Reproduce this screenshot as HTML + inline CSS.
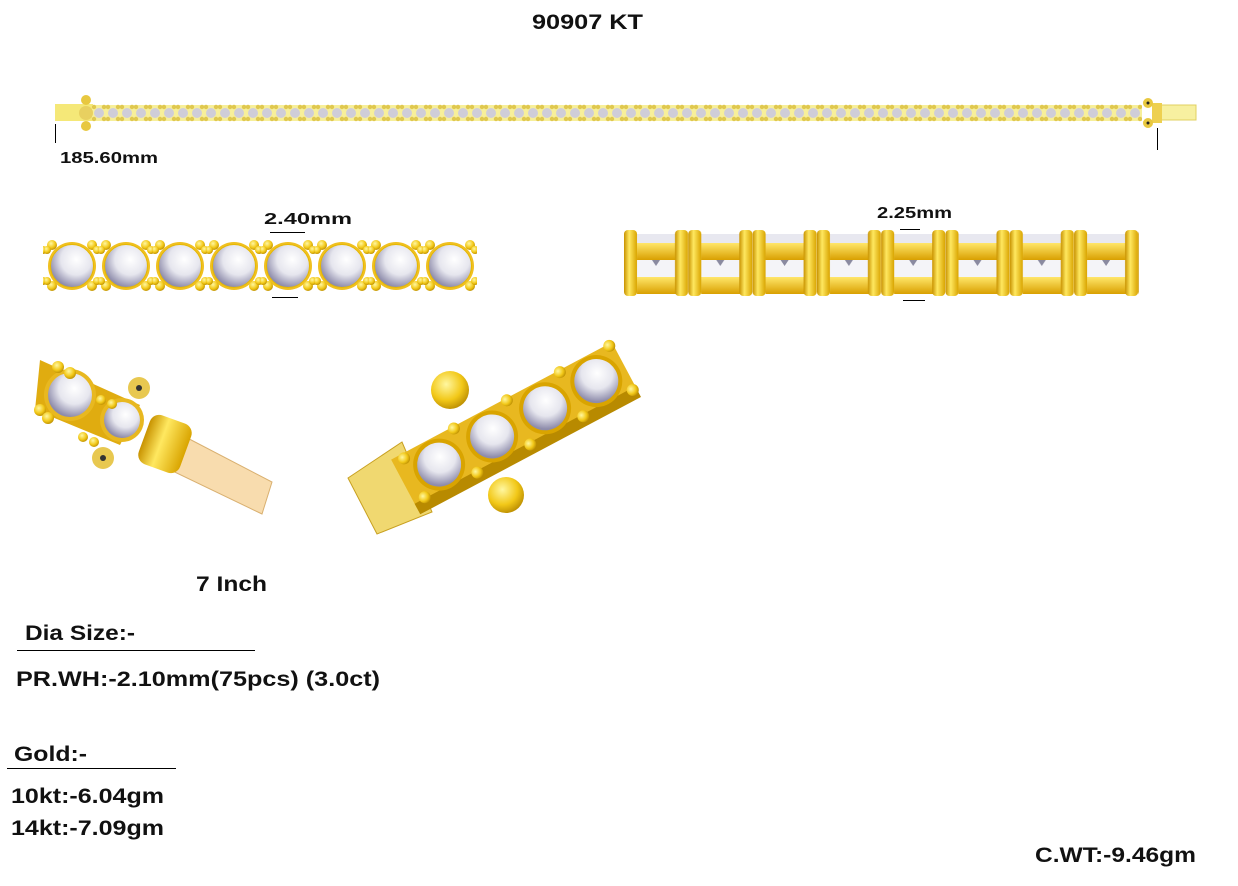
<!DOCTYPE html>
<html><head><meta charset="utf-8"><style>
html,body{margin:0;padding:0;background:#fff;width:1238px;height:886px;overflow:hidden}
svg{display:block}
text{font-family:"Liberation Sans",sans-serif;font-weight:bold;fill:#111}
</style></head><body>
<svg width="1238" height="886" viewBox="0 0 1238 886" xmlns="http://www.w3.org/2000/svg">
<defs>
<radialGradient id="stone" cx="0.6" cy="0.35" r="0.65">
<stop offset="0" stop-color="#ffffff"/><stop offset="0.55" stop-color="#e6e6ee"/><stop offset="1" stop-color="#8e8cab"/></radialGradient>
<radialGradient id="ball" cx="0.4" cy="0.35" r="0.7">
<stop offset="0" stop-color="#fff7a0"/><stop offset="0.6" stop-color="#f2c818"/><stop offset="1" stop-color="#b88a00"/></radialGradient>
<linearGradient id="post" x1="0" x2="1">
<stop offset="0" stop-color="#c89200"/><stop offset="0.4" stop-color="#ffe860"/><stop offset="1" stop-color="#d9a400"/></linearGradient>
<linearGradient id="bar" x1="0" y1="0" x2="0" y2="1">
<stop offset="0" stop-color="#ffe66a"/><stop offset="1" stop-color="#d9a000"/></linearGradient>
<pattern id="chain" x="92" y="100" width="14" height="26" patternUnits="userSpaceOnUse">
<rect x="0" y="5" width="14" height="16" fill="#f7ef9a"/>
<circle cx="7" cy="13" r="5" fill="#cfcdd8"/>
<circle cx="2" cy="7" r="2.2" fill="#e0c850"/><circle cx="12" cy="7" r="2.2" fill="#e0c850"/>
<circle cx="2" cy="19" r="2.2" fill="#e0c850"/><circle cx="12" cy="19" r="2.2" fill="#e0c850"/>
</pattern>
<pattern id="row" x="45" y="230" width="54" height="70" patternUnits="userSpaceOnUse">
<circle cx="27" cy="36" r="24" fill="#f0c020"/>
<circle cx="27" cy="36" r="21.5" fill="url(#stone)" stroke="#e6b800" stroke-width="1"/>
<circle cx="7" cy="15" r="5" fill="url(#ball)"/><circle cx="47" cy="15" r="5" fill="url(#ball)"/>
<circle cx="7" cy="56" r="5" fill="url(#ball)"/><circle cx="47" cy="56" r="5" fill="url(#ball)"/>
<circle cx="2" cy="20" r="4" fill="url(#ball)"/><circle cx="52" cy="20" r="4" fill="url(#ball)"/>
<circle cx="2" cy="51" r="4" fill="url(#ball)"/><circle cx="52" cy="51" r="4" fill="url(#ball)"/>
</pattern>
<pattern id="side" x="624" y="228" width="64.3" height="70" patternUnits="userSpaceOnUse">
<rect x="13" y="6" width="40" height="10" fill="#e8e8f0"/>
<rect x="13" y="32" width="40" height="17" fill="#f4f4f8"/>
<polygon points="28,32 36,32 32,38" fill="#8a8aa0"/>
<rect x="13" y="15" width="40" height="17" fill="url(#bar)"/>
<rect x="13" y="49" width="40" height="17" fill="url(#bar)"/>
<rect x="0" y="2" width="13" height="66" rx="4" fill="url(#post)"/>
<rect x="51" y="2" width="13" height="66" rx="4" fill="url(#post)"/>
</pattern>
</defs>

<text x="532" y="29" font-size="21" textLength="111" lengthAdjust="spacingAndGlyphs">90907 KT</text>

<rect x="55" y="104" width="38" height="17" fill="#f5e878"/>
<rect x="92" y="100" width="1050" height="26" fill="url(#chain)"/>
<rect x="1160" y="105" width="36" height="15" fill="#f7f0a0" stroke="#e0d060"/>
<rect x="1152" y="103" width="10" height="20" fill="#eed050"/>
<circle cx="86" cy="100" r="5" fill="#e8c840"/><circle cx="86" cy="126" r="5" fill="#e8c840"/>
<circle cx="86" cy="113" r="7" fill="#e8d060"/>
<circle cx="1148" cy="103" r="5" fill="#e8c840"/><circle cx="1148" cy="123" r="5" fill="#e8c840"/>
<circle cx="1148" cy="103" r="1.5" fill="#222"/><circle cx="1148" cy="123" r="1.5" fill="#222"/>
<line x1="55.5" y1="124" x2="55.5" y2="143" stroke="#000"/>
<line x1="1157.5" y1="128" x2="1157.5" y2="150" stroke="#000"/>
<text x="60" y="163" font-size="16" textLength="98" lengthAdjust="spacingAndGlyphs">185.60mm</text>

<rect x="43" y="230" width="434" height="70" fill="url(#row)"/>
<text x="264" y="224" font-size="16" textLength="88" lengthAdjust="spacingAndGlyphs">2.40mm</text>
<line x1="270" y1="232.5" x2="305" y2="232.5" stroke="#000"/>
<line x1="272" y1="297.5" x2="298" y2="297.5" stroke="#000"/>

<rect x="624" y="228" width="515" height="70" fill="url(#side)"/>
<text x="877" y="218" font-size="16" textLength="75" lengthAdjust="spacingAndGlyphs">2.25mm</text>
<line x1="900" y1="229.5" x2="920" y2="229.5" stroke="#000"/>
<line x1="903" y1="300.5" x2="925" y2="300.5" stroke="#000"/>

<!-- left clasp piece -->
<g>
<polygon points="172,430 272,482 262,514 160,465" fill="#f8dcae" stroke="#d9b070"/>
<circle cx="139" cy="388" r="11" fill="#e8c850"/><circle cx="139" cy="388" r="3" fill="#333"/>
<circle cx="103" cy="458" r="11" fill="#e8c850"/><circle cx="103" cy="458" r="3" fill="#333"/>
<polygon points="40,360 140,405 120,445 35,410" fill="#e0ac10"/>
<circle cx="70" cy="395" r="26" fill="#e8b820"/><circle cx="70" cy="395" r="22" fill="url(#stone)"/>
<circle cx="122" cy="420" r="22" fill="#e8b820"/><circle cx="122" cy="420" r="18" fill="url(#stone)"/>
<circle cx="58" cy="367" r="6" fill="url(#ball)"/><circle cx="70" cy="373" r="6" fill="url(#ball)"/>
<circle cx="40" cy="410" r="6" fill="url(#ball)"/><circle cx="48" cy="418" r="6" fill="url(#ball)"/>
<circle cx="101" cy="400" r="5" fill="url(#ball)"/><circle cx="112" cy="404" r="5" fill="url(#ball)"/>
<circle cx="83" cy="437" r="5" fill="url(#ball)"/><circle cx="94" cy="442" r="5" fill="url(#ball)"/>
<rect x="143" y="418" width="44" height="52" rx="10" fill="url(#post)" transform="rotate(20 165 444)"/>
</g>

<!-- right clasp piece -->
<g>
<polygon points="348,478 402,442 432,512 377,534" fill="#f0d870" stroke="#c8a020"/>
<g transform="rotate(-28 500 430)">
<rect x="390" y="405" width="250" height="55" fill="#e8b820"/>
<rect x="390" y="455" width="250" height="12" fill="#b88a00"/>
<circle cx="430" cy="432" r="26" fill="#d9a400"/><circle cx="430" cy="432" r="22" fill="url(#stone)"/>
<circle cx="490" cy="432" r="26" fill="#d9a400"/><circle cx="490" cy="432" r="22" fill="url(#stone)"/>
<circle cx="550" cy="432" r="26" fill="#d9a400"/><circle cx="550" cy="432" r="22" fill="url(#stone)"/>
<circle cx="608" cy="432" r="26" fill="#d9a400"/><circle cx="608" cy="432" r="22" fill="url(#stone)"/>
<circle cx="402" cy="410" r="6" fill="url(#ball)"/><circle cx="402" cy="454" r="6" fill="url(#ball)"/>
<circle cx="460" cy="407" r="6" fill="url(#ball)"/><circle cx="460" cy="457" r="6" fill="url(#ball)"/>
<circle cx="520" cy="407" r="6" fill="url(#ball)"/><circle cx="520" cy="457" r="6" fill="url(#ball)"/>
<circle cx="580" cy="407" r="6" fill="url(#ball)"/><circle cx="580" cy="457" r="6" fill="url(#ball)"/>
<circle cx="636" cy="407" r="6" fill="url(#ball)"/><circle cx="636" cy="457" r="6" fill="url(#ball)"/>
</g>
<circle cx="450" cy="390" r="19" fill="url(#ball)"/>
<circle cx="506" cy="495" r="18" fill="url(#ball)"/>
</g>

<text x="196" y="591" font-size="21" textLength="71" lengthAdjust="spacingAndGlyphs">7 Inch</text>
<text x="25" y="640" font-size="21" textLength="110" lengthAdjust="spacingAndGlyphs">Dia Size:-</text>
<line x1="17" y1="650.5" x2="255" y2="650.5" stroke="#000"/>
<text x="16" y="686" font-size="21" textLength="364" lengthAdjust="spacingAndGlyphs">PR.WH:-2.10mm(75pcs)  (3.0ct)</text>
<text x="14" y="761" font-size="21" textLength="73" lengthAdjust="spacingAndGlyphs">Gold:-</text>
<line x1="7" y1="768.5" x2="176" y2="768.5" stroke="#000"/>
<text x="11" y="803" font-size="21" textLength="153" lengthAdjust="spacingAndGlyphs">10kt:-6.04gm</text>
<text x="11" y="835" font-size="21" textLength="153" lengthAdjust="spacingAndGlyphs">14kt:-7.09gm</text>
<text x="1035" y="862" font-size="21" textLength="161" lengthAdjust="spacingAndGlyphs">C.WT:-9.46gm</text>
</svg>
</body></html>
